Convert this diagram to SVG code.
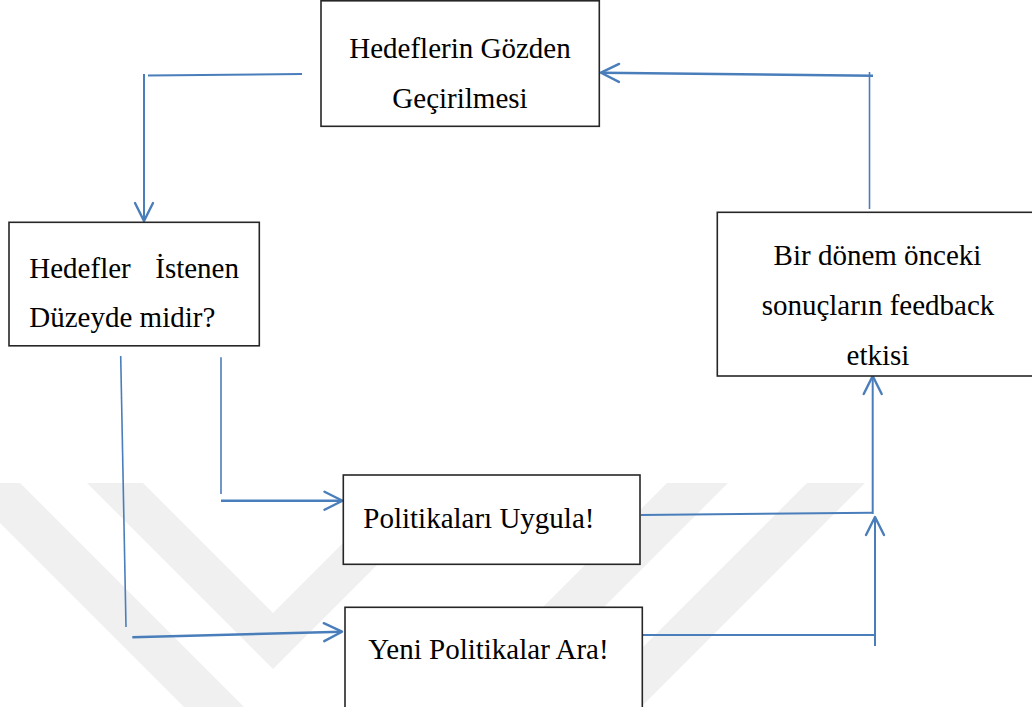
<svg xmlns="http://www.w3.org/2000/svg" width="1032" height="707" viewBox="0 0 1032 707">
  <style>
    .box { fill: #ffffff; stroke: #262626; stroke-width: 1.6; }
    .lbl { font-family: "Liberation Serif", "Times New Roman", serif; font-size: 29px; fill: #000000; }
    .con { fill: none; stroke: #4a7ebb; stroke-width: 2; stroke-linecap: butt; }
    .thin { stroke-width: 1.6; }
    .thick { stroke-width: 2.6; }
    .wm { fill: #f0f0f0; stroke: none; }
  </style>
  <defs>
    <marker id="open" markerUnits="userSpaceOnUse" viewBox="0 0 22 22" refX="20" refY="11" markerWidth="22" markerHeight="22" orient="auto">
      <path d="M2,2 L20,11 L2,20" fill="none" stroke="#4a7ebb" stroke-width="2.4" stroke-linecap="round" stroke-linejoin="round"/>
    </marker>
  </defs>
  <rect x="0" y="0" width="1032" height="707" fill="#ffffff"/>

  <g id="watermark">
    <polygon class="wm" points="-40,483 20,483 244,707 184,707"/>
    <polygon class="wm" points="87,483 143,483 273,613 403,483 459,483 273,669"/>
    <polygon class="wm" points="667,483 728,483 504,707 443,707"/>
    <polygon class="wm" points="807,483 865,483 641,707 583,707"/>
  </g>

  <g id="connectors">
    <line class="con" x1="302" y1="74" x2="148" y2="75.5"/>
    <line class="con" x1="144" y1="74" x2="144" y2="221" marker-end="url(#open)"/>
    <line class="con thin" x1="869.5" y1="209" x2="869.5" y2="72"/>
    <line class="con thick" x1="873" y1="75.7" x2="601" y2="72.7" marker-end="url(#open)"/>
    <line class="con thin" x1="120.7" y1="356" x2="126" y2="627"/>
    <line class="con thick" x1="132.3" y1="637.3" x2="342" y2="631.7" marker-end="url(#open)"/>
    <line class="con thin" x1="221" y1="357.3" x2="221" y2="494"/>
    <line class="con thick" x1="221" y1="500.7" x2="342.5" y2="500.7" marker-end="url(#open)"/>
    <line class="con" x1="641" y1="515" x2="872.7" y2="512.7"/>
    <line class="con" x1="872.7" y1="514" x2="872.7" y2="376" marker-end="url(#open)"/>
    <line class="con" x1="642" y1="635" x2="875" y2="635"/>
    <line class="con" x1="875" y1="646" x2="875" y2="517" marker-end="url(#open)"/>
  </g>

  <g id="node-review">
    <rect class="box" x="321" y="0.8" width="278.3" height="125.5"/>
    <text class="lbl" x="460" y="58" text-anchor="middle">Hedeflerin Gözden</text>
    <text class="lbl" x="460" y="108" text-anchor="middle">Geçirilmesi</text>
  </g>

  <g id="node-question">
    <rect class="box" x="9" y="222.3" width="250.3" height="123.5"/>
    <text class="lbl" x="29.3" y="278">Hedefler</text>
    <text class="lbl" x="239" y="278" text-anchor="end">İstenen</text>
    <text class="lbl" x="29.3" y="327">Düzeyde midir?</text>
  </g>

  <g id="node-feedback">
    <rect class="box" x="717.3" y="212.3" width="330" height="163.7"/>
    <text class="lbl" x="877.5" y="265" text-anchor="middle">Bir dönem önceki</text>
    <text class="lbl" x="878" y="315" text-anchor="middle">sonuçların feedback</text>
    <text class="lbl" x="878" y="365" text-anchor="middle">etkisi</text>
  </g>

  <g id="node-apply">
    <rect class="box" x="343.3" y="475" width="296.7" height="89.3"/>
    <text class="lbl" x="363.3" y="528.3">Politikaları Uygula!</text>
  </g>

  <g id="node-search">
    <rect class="box" x="345" y="607.3" width="297.3" height="110"/>
    <text class="lbl" x="368.3" y="659.3">Yeni Politikalar Ara!</text>
  </g>
</svg>
